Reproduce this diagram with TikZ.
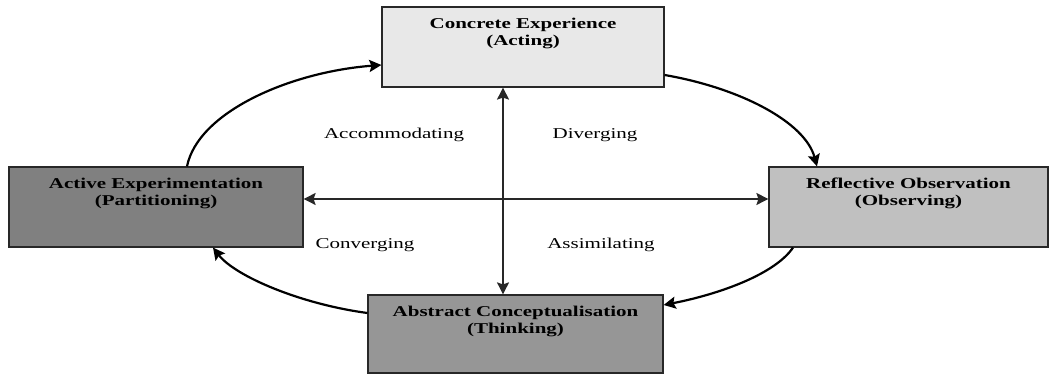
\documentclass[tikz,border=0pt]{standalone}
\usepackage{fontspec}
\setmainfont{Liberation Serif}[FakeStretch=1.4]
\usetikzlibrary{arrows.meta}
\definecolor{ceFill}{RGB}{232,232,232}
\definecolor{aeFill}{RGB}{128,128,128}
\definecolor{roFill}{RGB}{192,192,192}
\definecolor{acFill}{RGB}{150,150,150}
\definecolor{edge}{RGB}{40,40,40}
\tikzset{
  box/.style={draw=edge, line width=1.2pt, inner sep=0pt},
  boxtext/.style={anchor=north, inner sep=0pt, align=center, font=\fontsize{15}{17.5}\selectfont\bfseries},
  quad/.style={inner sep=0pt, font=\fontsize{15}{16}\selectfont},
  tip/.style={-{Stealth[length=12pt,width=12pt,inset=2pt]}},
  cycle/.style={tip, line width=2.2pt, black},
  axis/.style={{Stealth[length=12pt,width=12pt,inset=2pt]}-{Stealth[length=12pt,width=12pt,inset=2pt]}, line width=1.6pt, edge}
}
\begin{document}
\begin{tikzpicture}[x=1pt,y=1pt]
\useasboundingbox (0,0) rectangle (1052,374);
% boxes
\node[box, fill=ceFill, minimum width=282pt, minimum height=80pt] (CE) at (523,327) {};
\node[box, fill=aeFill, minimum width=294pt, minimum height=80pt] (AE) at (156,167) {};
\node[box, fill=roFill, minimum width=279pt, minimum height=80pt] (RO) at (908.5,167) {};
\node[box, fill=acFill, minimum width=295pt, minimum height=78pt] (AC) at (515.5,40) {};
% box texts
\node[boxtext] (CEt) at ([yshift=-11pt]CE.north) {Concrete Experience\\(Acting)};
\node[boxtext] (AEt) at ([yshift=-11pt]AE.north) {Active Experimentation\\(Partitioning)};
\node[boxtext] (ROt) at ([yshift=-11pt]RO.north) {Reflective Observation\\(Observing)};
\node[boxtext] (ACt) at ([yshift=-11pt]AC.north) {Abstract Conceptualisation\\(Thinking)};
% quadrant labels
\node[quad] (acc) at (394,239) {Accommodating};
\node[quad] (div) at (595,239) {Diverging};
\node[quad] (con) at (365,129) {Converging};
\node[quad] (ass) at (601,129) {Assimilating};
% axes
\coordinate (vx) at (503,0);
\coordinate (hy) at (0,175);
\draw[axis] (CE.south -| vx) -- (AC.north -| vx);
\draw[axis] (AE.east |- hy) -- (RO.west |- hy);
% cycle arrows
\coordinate (c1s) at (187,0);
\coordinate (c1e) at (0,309);
\draw[cycle] (AE.north -| c1s) .. controls (198,262) and (290,302) .. (CE.west |- c1e);
\coordinate (c2s) at (0,299);
\coordinate (c2e) at (817,0);
\draw[cycle] (CE.east |- c2s) .. controls (740,286) and (805,252) .. (RO.north -| c2e);
\coordinate (c3s) at (793,0);
\coordinate (c3e) at (0,69);
\draw[cycle] (RO.south -| c3s) .. controls (775,100) and (720,80) .. (AC.east |- c3e);
\coordinate (c4s) at (0,61);
\coordinate (c4e) at (213,0);
\draw[cycle] (AC.west |- c4s) .. controls (300,70) and (235,98) .. (AE.south -| c4e);
\end{tikzpicture}
\end{document}
